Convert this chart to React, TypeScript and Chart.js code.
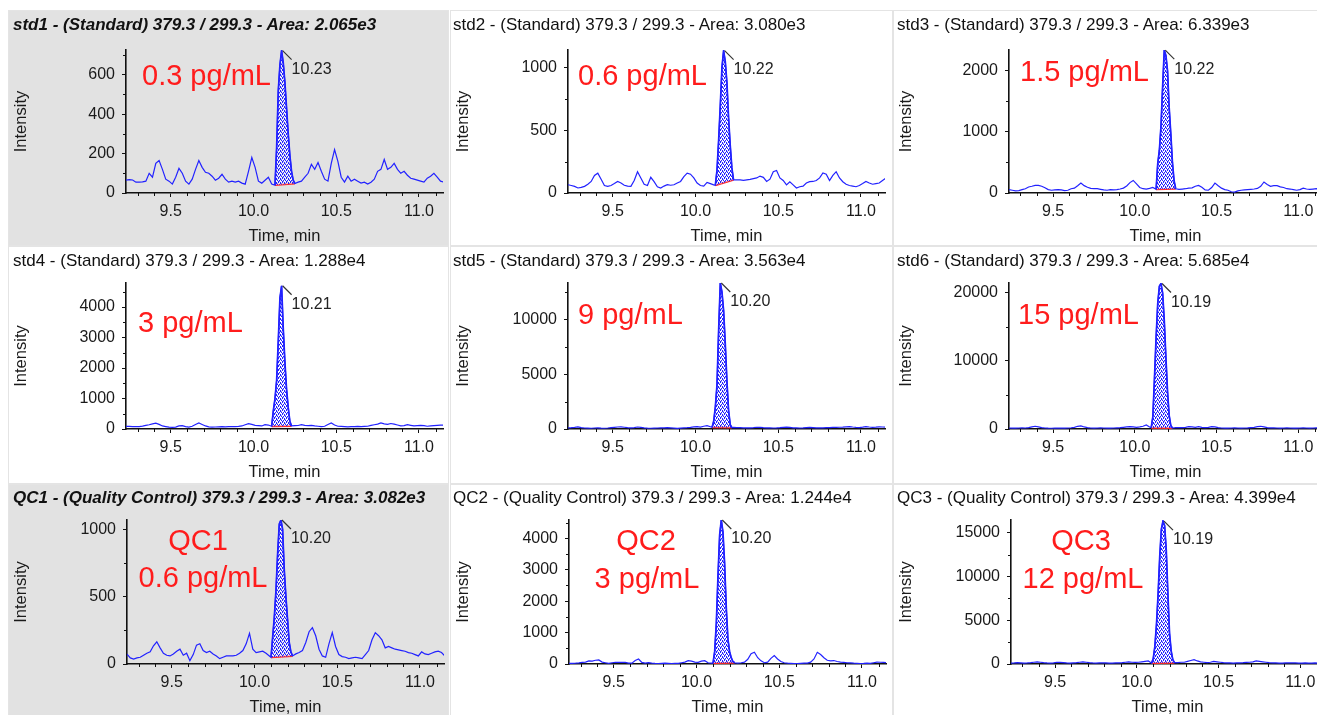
import React, { useEffect, useRef } from "react";
import { Chart, registerables } from "chart.js";

Chart.register(...registerables);

// ---------------- DATA ----------------
const TIME = [
  9.23, 9.25, 9.27, 9.29, 9.31, 9.33, 9.35, 9.37, 9.39, 9.41,
  9.43, 9.45, 9.47, 9.49, 9.51, 9.53, 9.55, 9.57, 9.59, 9.61,
  9.63, 9.65, 9.67, 9.69, 9.71, 9.73, 9.75, 9.77, 9.79, 9.81,
  9.83, 9.85, 9.87, 9.89, 9.91, 9.93, 9.95, 9.97, 9.99, 10.01,
  10.03, 10.05, 10.07, 10.09, 10.11, 10.13, 10.15, 10.17, 10.19, 10.21,
  10.23, 10.25, 10.27, 10.29, 10.31, 10.33, 10.35, 10.37, 10.39, 10.41,
  10.43, 10.45, 10.47, 10.49, 10.51, 10.53, 10.55, 10.57, 10.59, 10.61,
  10.63, 10.65, 10.67, 10.69, 10.71, 10.73, 10.75, 10.77, 10.79, 10.81,
  10.83, 10.85, 10.87, 10.89, 10.91, 10.93, 10.95, 10.97, 10.99, 11.01,
  11.03, 11.05, 11.07, 11.09, 11.11, 11.13, 11.15,
];

const X_TICKS = [9.5, 10.0, 10.5, 11.0];
const X_MINOR = [9.3, 9.4, 9.6, 9.7, 9.8, 9.9, 10.1, 10.2, 10.3, 10.4, 10.6, 10.7, 10.8, 10.9, 11.1];

const TITLES = [
  "std1 - (Standard) 379.3 / 299.3 - Area: 2.065e3",
  "std2 - (Standard) 379.3 / 299.3 - Area: 3.080e3",
  "std3 - (Standard) 379.3 / 299.3 - Area: 6.339e3",
  "std4 - (Standard) 379.3 / 299.3 - Area: 1.288e4",
  "std5 - (Standard) 379.3 / 299.3 - Area: 3.563e4",
  "std6 - (Standard) 379.3 / 299.3 - Area: 5.685e4",
  "QC1 - (Quality Control) 379.3 / 299.3 - Area: 3.082e3",
  "QC2 - (Quality Control) 379.3 / 299.3 - Area: 1.244e4",
  "QC3 - (Quality Control) 379.3 / 299.3 - Area: 4.399e4",
];
const PEAK_LABELS = ["10.23", "10.22", "10.22", "10.21", "10.20", "10.19", "10.20", "10.20", "10.19"];
const CONC_LABELS = ["0.3 pg/mL", "0.6 pg/mL", "1.5 pg/mL", "3 pg/mL", "9 pg/mL", "15 pg/mL", "0.6 pg/mL", "3 pg/mL", "12 pg/mL"];
const QC_LABELS = ["QC1", "QC2", "QC3"];

// std1
const STD1_NOISE = [
  65, 68, 66, 55, 55, 56, 60, 100, 80, 150,
  165, 120, 70, 60, 45, 80, 125, 100, 60, 45,
  70, 120, 165, 130, 105, 100, 85, 65, 75, 95,
  70, 55, 60, 55, 60, 50, 45, 110, 180, 130,
  60, 50, 65, 80, 45, 40, 40, 40, 40, 40,
  45, 48, 55, 60, 80, 100, 145, 120, 155, 110,
  70, 60, 150, 220, 160, 80, 55, 85, 60, 70,
  60, 50, 55, 45, 55, 70, 110, 120, 170, 120,
  130, 150, 120, 100, 110, 90, 75, 70, 65, 60,
  55, 75, 85, 100, 80, 60, 55,
];
const STD1_PEAK_T = [10.13, 10.14, 10.15, 10.16, 10.17, 10.18, 10.19, 10.2, 10.21, 10.22, 10.23, 10.24, 10.25];
const STD1_PEAK_Y = [40, 230, 520, 650, 722, 660, 560, 430, 300, 190, 110, 65, 48];
const STD1_YMAX = 725;
const STD1_YTICKS = [0, 200, 400, 600];
const STD1_YMINOR = [100, 300, 500, 700];

// std2
const STD2_NOISE = [
  66, 60, 53, 40, 45, 53, 70, 92, 140, 158,
  110, 60, 53, 60, 75, 92, 80, 62, 55, 53,
  100, 170, 120, 70, 60, 125, 90, 50, 40, 55,
  66, 62, 66, 80, 92, 130, 158, 150, 120, 80,
  60, 55, 85, 75, 65, 60, 100, 100, 100, 100,
  100, 105, 105, 100, 105, 108, 115, 120, 135, 125,
  92, 110, 170, 180, 120, 100, 65, 90, 65, 40,
  50, 55, 80, 90, 92, 100, 120, 160, 150, 100,
  140, 170, 120, 90, 70, 60, 55, 50, 60, 75,
  92, 80, 70, 75, 80, 100, 118,
];
const STD2_PEAK_T = [10.12, 10.13, 10.14, 10.15, 10.16, 10.17, 10.18, 10.19, 10.2, 10.21, 10.22, 10.23];
const STD2_PEAK_Y = [62, 180, 420, 700, 1000, 1135, 1050, 880, 600, 380, 200, 105];
const STD2_YMAX = 1140;
const STD2_YTICKS = [0, 500, 1000];
const STD2_YMINOR = [250, 750];

// std3
const STD3_NOISE = [
  54, 45, 35, 40, 55, 70, 98, 110, 125, 125,
  110, 85, 55, 45, 50, 55, 50, 40, 45, 70,
  80, 120, 163, 120, 95, 75, 70, 70, 60, 50,
  45, 55, 50, 55, 65, 80, 115, 170, 206, 150,
  90, 70, 65, 75, 90, 60, 60, 60, 60, 60,
  60, 60, 60, 65, 70, 80, 85, 110, 125, 95,
  50, 45, 90, 163, 120, 80, 55, 45, 20, 15,
  35, 45, 50, 55, 60, 65, 75, 110, 180, 140,
  110, 120, 120, 100, 90, 70, 65, 55, 45, 55,
  80, 65, 60, 65, 70, 60, 55,
];
const STD3_PEAK_T = [10.13, 10.14, 10.15, 10.16, 10.17, 10.18, 10.19, 10.2, 10.21, 10.22, 10.23, 10.24, 10.25];
const STD3_PEAK_Y = [60, 480, 700, 1100, 1750, 2337, 2250, 2000, 1400, 970, 500, 200, 70];
const STD3_YMAX = 2340;
const STD3_YTICKS = [0, 1000, 2000];
const STD3_YMINOR = [500, 1500];

// std4
const STD4_NOISE = [
  85, 85, 80, 75, 80, 95, 120, 140, 170, 190,
  150, 100, 80, 60, 55, 60, 100, 110, 80, 65,
  90, 150, 196, 150, 100, 70, 60, 65, 70, 75,
  70, 75, 80, 80, 85, 100, 140, 175, 150, 120,
  110, 100, 140, 130, 100, 100, 100, 100, 100, 100,
  100, 110, 115, 140, 120, 110, 120, 100, 90, 80,
  90, 150, 200, 130, 90, 85, 80, 70, 75, 80,
  85, 80, 85, 90, 120, 140, 160, 200, 170, 150,
  180, 160, 130, 100, 110, 140, 120, 100, 110, 120,
  110, 90, 100, 110, 120, 130, 130,
];
const STD4_PEAK_T = [10.11, 10.12, 10.13, 10.14, 10.15, 10.16, 10.17, 10.18, 10.19, 10.2, 10.21, 10.22, 10.23];
const STD4_PEAK_Y = [90, 600, 1000, 1600, 2900, 4300, 4700, 3300, 2200, 1300, 700, 250, 100];
const STD4_YMAX = 4790;
const STD4_YTICKS = [0, 1000, 2000, 3000, 4000];
const STD4_YMINOR = [500, 1500, 2500, 3500, 4500];

// std5
const STD5_NOISE = [
  100, 120, 150, 200, 130, 90, 80, 70, 90, 100,
  80, 70, 90, 120, 150, 180, 200, 160, 120, 100,
  130, 180, 150, 100, 80, 70, 80, 90, 100, 110,
  120, 100, 80, 60, 80, 100, 120, 150, 200, 220,
  180, 250, 300, 200, 150, 150, 150, 150, 150, 150,
  150, 130, 120, 110, 100, 110, 130, 160, 140, 120,
  110, 100, 90, 100, 120, 150, 170, 140, 110, 100,
  90, 100, 120, 140, 130, 110, 100, 110, 120, 130,
  140, 150, 160, 170, 200, 220, 180, 150, 130, 170,
  220, 180, 150, 170, 200, 180, 160,
];
const STD5_PEAK_T = [10.1, 10.11, 10.12, 10.13, 10.14, 10.15, 10.16, 10.17, 10.18, 10.19, 10.2, 10.21, 10.22];
const STD5_PEAK_Y = [150, 700, 2000, 4000, 9000, 13300, 12500, 10800, 7800, 4400, 1700, 400, 130];
const STD5_YMAX = 13300;
const STD5_YTICKS = [0, 5000, 10000];
const STD5_YMINOR = [2500, 7500, 12500];

// std6
const STD6_NOISE = [
  150, 140, 130, 150, 160, 150, 200, 300, 400, 300,
  200, 150, 120, 110, 130, 150, 140, 130, 150, 180,
  250, 400, 450, 300, 200, 150, 140, 150, 160, 150,
  140, 130, 150, 170, 200, 250, 300, 350, 300, 250,
  300, 400, 600, 300, 200, 200, 200, 200, 200, 200,
  200, 200, 200, 200, 250, 350, 300, 250, 350, 250,
  200, 250, 350, 300, 200, 150, 140, 130, 150, 160,
  150, 140, 150, 160, 200, 250, 350, 400, 300, 200,
  180, 160, 150, 140, 150, 160, 150, 140, 130, 150,
  160, 150, 140, 150, 160, 150, 140,
];
const STD6_PEAK_T = [10.1, 10.11, 10.12, 10.13, 10.14, 10.15, 10.16, 10.17, 10.18, 10.19, 10.2, 10.21, 10.22, 10.23];
const STD6_PEAK_Y = [200, 1800, 7500, 13500, 18500, 21000, 21400, 20000, 16000, 10500, 5500, 2000, 500, 150];
const STD6_YMAX = 21470;
const STD6_YTICKS = [0, 10000, 20000];
const STD6_YMINOR = [5000, 15000];

// QC1
const QC1_NOISE = [
  74, 45, 37, 45, 50, 65, 80, 90, 135, 165,
  120, 80, 65, 60, 75, 95, 110, 65, 80, 25,
  70, 140, 150, 100, 85, 95, 75, 60, 40, 50,
  60, 60, 60, 65, 80, 100, 150, 228, 110, 85,
  90, 95, 80, 60, 60, 60, 60, 60, 60, 60,
  60, 75, 85, 100, 160, 240, 270, 210, 110, 60,
  50, 150, 233, 130, 70, 55, 50, 40, 45, 50,
  45, 40, 70, 100, 180, 233, 210, 180, 120, 130,
  120, 110, 105, 100, 95, 85, 80, 70, 60, 90,
  75, 70, 80, 90, 95, 85, 60,
];
const QC1_PEAK_T = [10.1, 10.11, 10.12, 10.13, 10.14, 10.15, 10.16, 10.17, 10.18, 10.19, 10.2, 10.21, 10.22, 10.23];
const QC1_PEAK_Y = [50, 200, 350, 550, 820, 1040, 1070, 1000, 700, 500, 330, 160, 90, 60];
const QC1_YMAX = 1070;
const QC1_YTICKS = [0, 500, 1000];
const QC1_YMINOR = [250, 750];

// QC2
const QC2_NOISE = [
  20, 20, 25, 35, 50, 60, 100, 90, 120, 128,
  60, 40, 20, 40, 55, 50, 55, 50, 30, 25,
  110, 160, 50, 30, 45, 30, 20, 15, 20, 25,
  20, 15, 20, 20, 40, 60, 107, 90, 60, 55,
  90, 107, 40, 30, 30, 30, 30, 30, 30, 30,
  30, 30, 40, 60, 150, 330, 373, 200, 100, 40,
  60, 180, 267, 160, 80, 40, 25, 20, 15, 10,
  20, 25, 30, 60, 160, 373, 300, 200, 120, 100,
  110, 80, 60, 50, 40, 35, 25, 20, 15, 20,
  30, 20, 40, 60, 55, 50, 45,
];
const QC2_PEAK_T = [10.1, 10.11, 10.12, 10.13, 10.14, 10.15, 10.16, 10.17, 10.18, 10.19, 10.2, 10.21, 10.22, 10.23];
const QC2_PEAK_Y = [30, 400, 1300, 2800, 4100, 4580, 4200, 3200, 1800, 800, 400, 200, 80, 40];
const QC2_YMAX = 4580;
const QC2_YTICKS = [0, 1000, 2000, 3000, 4000];
const QC2_YMINOR = [500, 1500, 2500, 3500, 4500];

// QC3
const QC3_NOISE = [
  100, 120, 150, 130, 100, 120, 150, 200, 250, 200,
  150, 120, 100, 120, 200, 180, 150, 120, 110, 130,
  150, 200, 250, 200, 150, 120, 100, 120, 130, 120,
  110, 100, 120, 130, 150, 200, 250, 200, 180, 200,
  250, 300, 350, 250, 150, 150, 150, 150, 150, 150,
  150, 150, 200, 200, 300, 400, 500, 350, 250, 200,
  150, 200, 300, 250, 200, 150, 130, 120, 110, 120,
  130, 150, 180, 200, 250, 350, 300, 250, 200, 150,
  130, 120, 110, 100, 120, 140, 130, 120, 100, 110,
  120, 100, 110, 120, 100, 110, 120,
];
const QC3_PEAK_T = [10.09, 10.1, 10.11, 10.12, 10.13, 10.14, 10.15, 10.16, 10.17, 10.18, 10.19, 10.2, 10.21, 10.22, 10.23];
const QC3_PEAK_Y = [100, 600, 2000, 4500, 8000, 12300, 15400, 16330, 15800, 13000, 8000, 3500, 1500, 500, 150];
const QC3_YMAX = 16450;
const QC3_YTICKS = [0, 5000, 10000, 15000];
const QC3_YMINOR = [2500, 7500, 12500];

// ---------------- STYLE / LAYOUT ----------------
const FONT = '"Liberation Sans", Arial, Helvetica, sans-serif';
const BLUE = "#2222ff";
const RED_LINE = "#ff2a2a";
const RED_TEXT = "#ff1c1c";
const GREY = "#e2e2e2";
const TEXT = "#1a1a1a";

const COL_LEFT = [8, 450, 893];
const COL_WIDTH = [441, 443, 443];
const ROW_TOP = [10, 246, 484];
const ROW_HEIGHT = [236, 238, 236];
const ROW_PLOT_TOP = [40, 37, 36];
const ROW_PLOT_BOTTOM = [183, 183, 180];
const PLOT_LEFT = [
  [118, 118, 116],
  [118, 118, 116],
  [119, 119, 118],
];
const COL_PLOT_WIDTH = [317, 317, 313];
const TITLE_LEFT = [5, 3, 4];
const TITLE_TOP = [5.7, 5.7, 4.7];

// annotation positions (page coords): [x, centerY, align]
const CONC_POS: [number, number, string][] = [
  [142, 75, "left"], [578, 75, "left"], [1020, 71, "left"],
  [138, 322, "left"], [578, 314, "left"], [1018, 314, "left"],
  [203, 577, "center"], [647, 578, "center"], [1083, 578, "center"],
];
const QC_POS: [number, number][] = [[198, 540], [646, 540], [1081, 540]];

const PANELS = [
  { title: TITLES[0], noise: STD1_NOISE, pkT: STD1_PEAK_T, pkY: STD1_PEAK_Y, yMax: STD1_YMAX, yTicks: STD1_YTICKS, yMinor: STD1_YMINOR, label: PEAK_LABELS[0], bold: true },
  { title: TITLES[1], noise: STD2_NOISE, pkT: STD2_PEAK_T, pkY: STD2_PEAK_Y, yMax: STD2_YMAX, yTicks: STD2_YTICKS, yMinor: STD2_YMINOR, label: PEAK_LABELS[1], bold: false },
  { title: TITLES[2], noise: STD3_NOISE, pkT: STD3_PEAK_T, pkY: STD3_PEAK_Y, yMax: STD3_YMAX, yTicks: STD3_YTICKS, yMinor: STD3_YMINOR, label: PEAK_LABELS[2], bold: false },
  { title: TITLES[3], noise: STD4_NOISE, pkT: STD4_PEAK_T, pkY: STD4_PEAK_Y, yMax: STD4_YMAX, yTicks: STD4_YTICKS, yMinor: STD4_YMINOR, label: PEAK_LABELS[3], bold: false },
  { title: TITLES[4], noise: STD5_NOISE, pkT: STD5_PEAK_T, pkY: STD5_PEAK_Y, yMax: STD5_YMAX, yTicks: STD5_YTICKS, yMinor: STD5_YMINOR, label: PEAK_LABELS[4], bold: false },
  { title: TITLES[5], noise: STD6_NOISE, pkT: STD6_PEAK_T, pkY: STD6_PEAK_Y, yMax: STD6_YMAX, yTicks: STD6_YTICKS, yMinor: STD6_YMINOR, label: PEAK_LABELS[5], bold: false },
  { title: TITLES[6], noise: QC1_NOISE, pkT: QC1_PEAK_T, pkY: QC1_PEAK_Y, yMax: QC1_YMAX, yTicks: QC1_YTICKS, yMinor: QC1_YMINOR, label: PEAK_LABELS[6], bold: true },
  { title: TITLES[7], noise: QC2_NOISE, pkT: QC2_PEAK_T, pkY: QC2_PEAK_Y, yMax: QC2_YMAX, yTicks: QC2_YTICKS, yMinor: QC2_YMINOR, label: PEAK_LABELS[7], bold: false },
  { title: TITLES[8], noise: QC3_NOISE, pkT: QC3_PEAK_T, pkY: QC3_PEAK_Y, yMax: QC3_YMAX, yTicks: QC3_YTICKS, yMinor: QC3_YMINOR, label: PEAK_LABELS[8], bold: false },
];

type PanelCfg = (typeof PANELS)[number];

function buildTrace(noise: number[], pkT: number[], pkY: number[]) {
  const t0 = pkT[0];
  const t1 = pkT[pkT.length - 1];
  const pts: { x: number; y: number }[] = [];
  TIME.forEach((t, i) => {
    if (t < t0 - 1e-9 || t > t1 + 1e-9) pts.push({ x: t, y: noise[i] });
  });
  pkT.forEach((t, i) => pts.push({ x: t, y: pkY[i] }));
  pts.sort((a, b) => a.x - b.x);
  return pts;
}

function makePattern() {
  const c = document.createElement("canvas");
  c.width = 4;
  c.height = 4;
  const g = c.getContext("2d")!;
  g.fillStyle = "rgba(255,255,255,0.6)";
  g.fillRect(0, 0, 4, 4);
  g.fillStyle = BLUE;
  g.fillRect(0, 0, 1, 1);
  g.fillRect(2, 0, 1, 1);
  g.fillRect(1, 2, 1, 1);
  g.fillRect(3, 2, 1, 1);
  g.fillRect(0, 1, 1, 1);
  g.fillRect(2, 3, 1, 1);
  g.fillStyle = "rgba(34,34,255,0.45)";
  g.fillRect(1, 1, 1, 1);
  g.fillRect(3, 3, 1, 1);
  return g.createPattern(c, "repeat");
}

function Panel({ cfg, row, col }: { cfg: PanelCfg; row: number; col: number }) {
  const ref = useRef<HTMLCanvasElement | null>(null);
  const W = COL_WIDTH[col];
  const H = ROW_HEIGHT[row];

  useEffect(() => {
    const canvas = ref.current;
    if (!canvas) return;
    const plotLeft = PLOT_LEFT[row][col];
    const plotTop = ROW_PLOT_TOP[row];
    const plotBottom = ROW_PLOT_BOTTOM[row];
    const plotWidth = COL_PLOT_WIDTH[col];
    const XH = 52.9;
    const padLeft = 3.5;
    const n = cfg.pkT.length;
    const trace = buildTrace(cfg.noise, cfg.pkT, cfg.pkY);
    const peak = cfg.pkT.map((t, i) => ({ x: t, y: cfg.pkY[i] }));
    const base = [
      { x: cfg.pkT[0], y: cfg.pkY[0] },
      { x: cfg.pkT[n - 1], y: cfg.pkY[n - 1] },
    ];

    const decor = {
      id: "decor",
      afterDraw(chart: any) {
        const { ctx } = chart;
        const xs = chart.scales.x;
        const ys = chart.scales.y;
        ctx.save();
        ctx.strokeStyle = "#111";
        ctx.lineWidth = 1;
        ctx.beginPath();
        for (const v of X_MINOR) {
          const px = Math.round(xs.getPixelForValue(v)) + 0.5;
          ctx.moveTo(px, ys.bottom);
          ctx.lineTo(px, ys.bottom + 3);
        }
        for (const v of cfg.yMinor) {
          if (v > cfg.yMax) continue;
          const py = Math.round(ys.getPixelForValue(v)) + 0.5;
          ctx.moveTo(xs.left - 3, py);
          ctx.lineTo(xs.left, py);
        }
        ctx.stroke();
        // peak apex label
        let k = 0;
        cfg.pkY.forEach((v, i) => {
          if (v > cfg.pkY[k]) k = i;
        });
        const ax = xs.getPixelForValue(cfg.pkT[k]);
        const ay = ys.getPixelForValue(cfg.pkY[k]);
        ctx.strokeStyle = "#333";
        ctx.lineWidth = 1.2;
        ctx.beginPath();
        ctx.moveTo(ax + 1, ay);
        ctx.lineTo(ax + 10, ay + 9);
        ctx.stroke();
        ctx.fillStyle = "#222";
        ctx.font = `16px ${FONT}`;
        ctx.textAlign = "left";
        ctx.textBaseline = "middle";
        ctx.fillText(cfg.label, ax + 10, ay + 19);
        ctx.restore();
      },
    };

    const tickFont = { family: FONT, size: 16 };
    const titleFont = { family: FONT, size: 16.5 };

    const chart = new Chart(canvas, {
      type: "line",
      data: {
        datasets: [
          { data: trace, borderColor: BLUE, borderWidth: 1.2, pointRadius: 0, fill: false, tension: 0 } as any,
          { data: peak, borderColor: BLUE, borderWidth: 1.7, pointRadius: 0, fill: "+1", backgroundColor: makePattern(), tension: 0 } as any,
          { data: base, borderColor: RED_LINE, borderWidth: 2, pointRadius: 0, fill: false, tension: 0 } as any,
        ],
      },
      options: {
        animation: false,
        responsive: false,
        events: [],
        layout: {
          padding: {
            left: padLeft,
            top: plotTop,
            right: W - plotLeft - plotWidth,
            bottom: Math.max(0, H - plotBottom - XH),
          },
        },
        plugins: {
          legend: { display: false },
          tooltip: { enabled: false },
          title: { display: false },
        },
        scales: {
          x: {
            type: "linear",
            min: 9.23,
            max: 11.145,
            afterBuildTicks: (s: any) => {
              s.ticks = X_TICKS.map((v) => ({ value: v }));
            },
            afterFit: (s: any) => {
              s.height = XH;
            },
            grid: { drawOnChartArea: false, drawTicks: true, tickLength: 4, tickColor: "#111", tickWidth: 1 },
            border: { display: true, color: "#111", width: 1.6 },
            ticks: {
              padding: 5,
              color: TEXT,
              font: tickFont,
              autoSkip: false,
              maxRotation: 0,
              callback: (v: any) => Number(v).toFixed(1),
            },
            title: { display: true, text: "Time, min", color: TEXT, font: titleFont, padding: 0 },
          },
          y: {
            type: "linear",
            min: 0,
            max: cfg.yMax,
            afterBuildTicks: (s: any) => {
              s.ticks = cfg.yTicks.map((v) => ({ value: v }));
            },
            afterFit: (s: any) => {
              s.width = plotLeft - padLeft;
            },
            grid: { drawOnChartArea: false, drawTicks: true, tickLength: 4, tickColor: "#111", tickWidth: 1 },
            border: { display: true, color: "#111", width: 1.6 },
            ticks: {
              padding: 7,
              color: TEXT,
              font: tickFont,
              autoSkip: false,
              callback: (v: any) => String(v),
            },
            title: { display: true, text: "Intensity", color: TEXT, font: titleFont, padding: 0 },
          },
        },
      } as any,
      plugins: [decor as any],
    });
    return () => chart.destroy();
  }, [cfg, row, col, W, H]);

  return (
    <div
      style={{
        position: "absolute",
        left: COL_LEFT[col],
        top: ROW_TOP[row],
        width: W,
        height: H,
        background: cfg.bold ? GREY : "#ffffff",
        boxShadow: "inset 0 0 0 1px #e4e4e4",
      }}
    >
      <canvas
        ref={ref}
        width={W}
        height={H}
        style={{ position: "absolute", left: 0, top: 0, width: W, height: H }}
      />
      <div
        style={{
          position: "absolute",
          left: TITLE_LEFT[col],
          top: TITLE_TOP[row],
          fontFamily: FONT,
          fontSize: 17,
          lineHeight: "17px",
          fontWeight: cfg.bold ? "bold" : "normal",
          fontStyle: cfg.bold ? "italic" : "normal",
          color: "#111",
          whiteSpace: "nowrap",
        }}
      >
        {cfg.title}
      </div>
    </div>
  );
}

function RedText({ text, x, cy, align }: { text: string; x: number; cy: number; align: string }) {
  const size = 29;
  return (
    <div
      style={{
        position: "absolute",
        left: x,
        top: cy - 14.1,
        transform: align === "center" ? "translateX(-50%)" : undefined,
        fontFamily: FONT,
        fontSize: size,
        lineHeight: `${size}px`,
        color: RED_TEXT,
        whiteSpace: "nowrap",
      }}
    >
      {text}
    </div>
  );
}

export default function App() {
  return (
    <div
      style={{
        position: "absolute",
        left: 0,
        top: 0,
        width: 1317,
        height: 715,
        overflow: "hidden",
        background: "#ffffff",
      }}
    >
      {PANELS.map((cfg, k) => (
        <Panel key={k} cfg={cfg} row={Math.floor(k / 3)} col={k % 3} />
      ))}
      {CONC_LABELS.map((t, k) => (
        <RedText key={"c" + k} text={t} x={CONC_POS[k][0]} cy={CONC_POS[k][1]} align={CONC_POS[k][2]} />
      ))}
      {QC_LABELS.map((t, k) => (
        <RedText key={"q" + k} text={t} x={QC_POS[k][0]} cy={QC_POS[k][1]} align="center" />
      ))}
    </div>
  );
}
